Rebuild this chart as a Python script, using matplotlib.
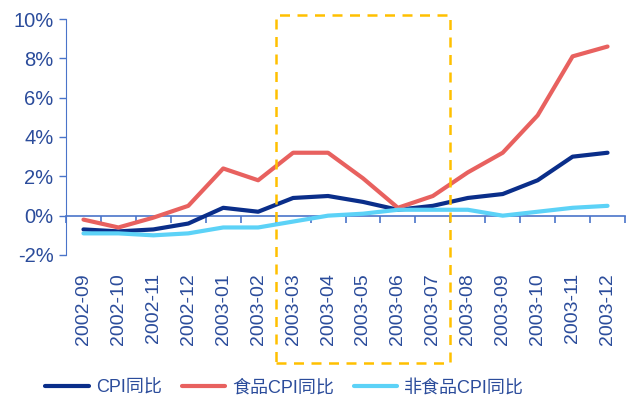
import matplotlib.pyplot as plt
from matplotlib.patches import Rectangle
from matplotlib.ticker import FuncFormatter

plt.rcParams['font.family'] = ['Liberation Sans', 'Noto Sans CJK SC']

months = ["2002-09", "2002-10", "2002-11", "2002-12", "2003-01", "2003-02",
          "2003-03", "2003-04", "2003-05", "2003-06", "2003-07", "2003-08",
          "2003-09", "2003-10", "2003-11", "2003-12"]
cpi = [-0.7, -0.8, -0.7, -0.4, 0.4, 0.2, 0.9, 1.0, 0.7, 0.3, 0.5, 0.9,
       1.1, 1.8, 3.0, 3.2]
food_cpi = [-0.2, -0.6, -0.1, 0.5, 2.4, 1.8, 3.2, 3.2, 1.9, 0.4, 1.0, 2.2,
            3.2, 5.1, 8.1, 8.6]
nonfood_cpi = [-0.9, -0.9, -1.0, -0.9, -0.6, -0.6, -0.3, 0.0, 0.1, 0.3, 0.3,
               0.3, 0.0, 0.2, 0.4, 0.5]
series_names = ["CPI同比", "食品CPI同比", "非食品CPI同比"]

axis_color = "#4A74C9"
text_color = "#2B4C9B"
colors = ["#0A2E8A", "#E8615F", "#5CD2F7"]

fig = plt.figure(figsize=(6.26, 3.99), dpi=100)
ax = fig.add_axes([66 / 626, 1 - 255 / 399, 559 / 626, 236 / 399])

x = list(range(len(months)))
for vals, name, c in zip([cpi, food_cpi, nonfood_cpi], series_names, colors):
    ax.plot(x, vals, color=c, lw=3, label=name, solid_capstyle="round",
            solid_joinstyle="round")

ax.set_ylim(-2, 10)
ax.set_xlim(-0.5, len(months) - 0.5)
ax.set_yticks(range(-2, 11, 2))
ax.yaxis.set_major_formatter(FuncFormatter(lambda v, p: f"{v:.0f}%"))
ax.tick_params(axis="y", colors=axis_color, labelcolor=text_color,
               labelsize=14.5, length=5, width=1, pad=4)

for side in ["top", "right", "bottom"]:
    ax.spines[side].set_visible(False)
ax.spines["left"].set_color(axis_color)

# month labels sit under the plot area
ax.set_xticks(x)
ax.set_xticklabels(months, rotation=90)
ax.tick_params(axis="x", length=0, labelcolor=text_color, labelsize=14, pad=13)

# category axis drawn along the zero line
zero_axis = ax.secondary_xaxis(2 / 12)
zero_axis.set_xticks([i - 0.5 for i in range(len(months) + 1)])
zero_axis.set_xticklabels([])
zero_axis.spines["bottom"].set_color(axis_color)
zero_axis.spines["bottom"].set_linewidth(1.2)
zero_axis.tick_params(axis="x", colors=axis_color, length=5, width=1.2)

# highlighted period
box = Rectangle((5.5, -7.47), 5, 17.67, fill=False, ec="#FFC000", lw=1.8,
                ls=(0, (4, 3)), clip_on=False, zorder=5)
ax.add_patch(box)

fig.legend(loc="lower center", bbox_to_anchor=(0.455, -0.035), ncol=3,
           frameon=False, fontsize=13, labelcolor=text_color,
           handlelength=2.4, handletextpad=0.4, columnspacing=1.1)

fig.savefig("out.png", dpi=100)
